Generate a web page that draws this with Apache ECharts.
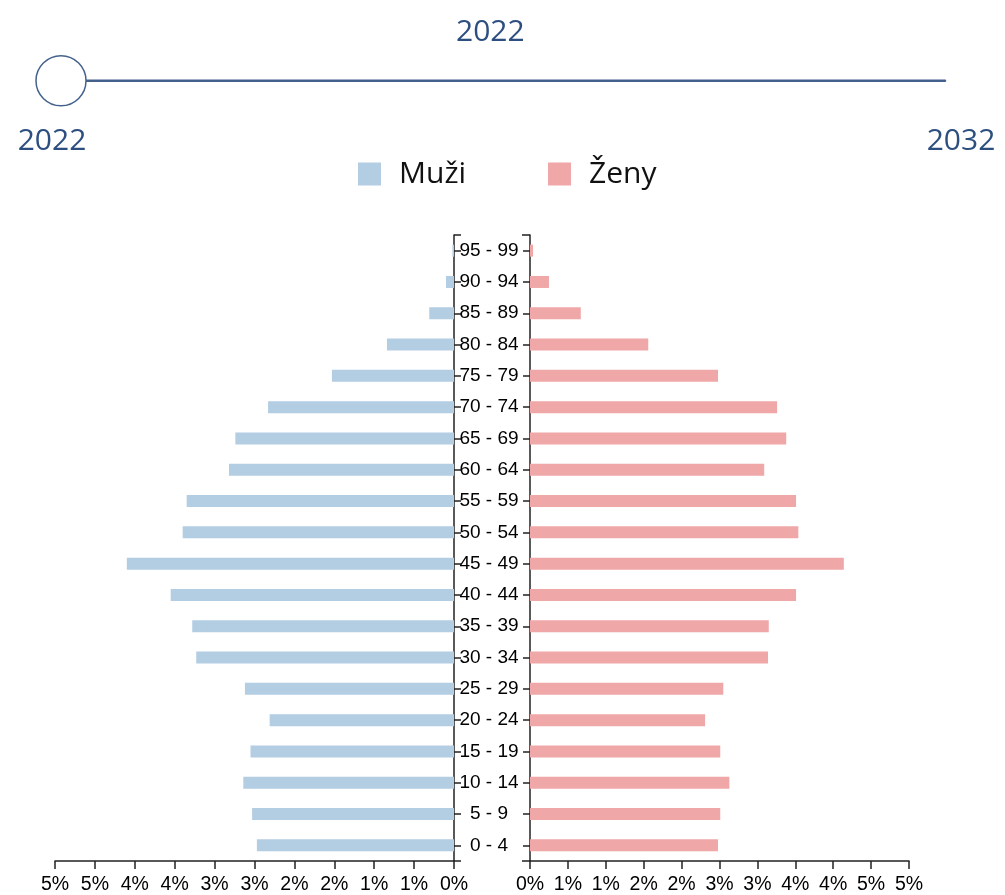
<!DOCTYPE html>
<html>
<head>
<meta charset="utf-8">
<script src="https://cdn.jsdelivr.net/npm/echarts@6/dist/echarts.min.js"></script>
<style>
html,body{margin:0;padding:0;background:#fff;}
#chart{width:1005px;height:895px;}
</style>
</head>
<body>
<div id="chart"></div>
<script>
var years = ['2022','2023','2024','2025','2026','2027','2028','2029','2030','2031','2032'];
var currentYear = '2022';
var categories = ['0 - 4','5 - 9','10 - 14','15 - 19','20 - 24','25 - 29','30 - 34','35 - 39','40 - 44','45 - 49','50 - 54','55 - 59','60 - 64','65 - 69','70 - 74','75 - 79','80 - 84','85 - 89','90 - 94','95 - 99'];
var male = [2.47, 2.53, 2.64, 2.55, 2.31, 2.62, 3.23, 3.28, 3.55, 4.10, 3.40, 3.35, 2.82, 2.74, 2.33, 1.53, 0.84, 0.31, 0.10, 0.02];
var female = [2.48, 2.51, 2.63, 2.51, 2.31, 2.55, 3.14, 3.15, 3.51, 4.14, 3.54, 3.51, 3.09, 3.38, 3.26, 2.48, 1.56, 0.67, 0.25, 0.04];
var seriesNames = ['Muži', 'Ženy'];

var blue = '#b3cde3', pink = '#efa7a8', navy = '#2d4f80', lineNavy = '#44618d';
var uiFont = 'Open Sans', axFont = 'Liberation Sans';

var chart = echarts.init(document.getElementById('chart'), null, {renderer: 'canvas'});

function xAxisCfg(gridIndex, inverse) {
  return {
    type: 'value', gridIndex: gridIndex, min: 0, max: 5, interval: 0.5, inverse: inverse,
    axisLine: {show: true, lineStyle: {color: '#222', width: 1.5}},
    axisTick: {show: true, length: 8, lineStyle: {color: '#222', width: 1.5}},
    splitLine: {show: false},
    axisLabel: {color: '#000', fontFamily: axFont, fontSize: 19.5, margin: 14,
      formatter: function (v) { return Math.round(v) + '%'; }}
  };
}

var years2 = years.map(function (y, i) {
  if (i === 0) return {value: y, label: {padding: [0, 18, 0, 0], color: navy, fontFamily: uiFont, fontSize: 30}};
  if (i === years.length - 1) return {value: y, label: {padding: [0, 0, 0, 32], color: navy, fontFamily: uiFont, fontSize: 30}};
  return y;
});

var option = {
  animation: false,
  title: {
    text: currentYear, left: 451, top: 12,
    textStyle: {color: navy, fontFamily: uiFont, fontSize: 30, fontWeight: 'normal'}
  },
  timeline: {
    axisType: 'category', data: years2, currentIndex: 0, autoPlay: false,
    left: 46, right: 45, top: 40, height: 50,
    symbol: 'circle', symbolSize: 0,
    lineStyle: {color: lineNavy, width: 2.5},
    progress: {lineStyle: {color: lineNavy, width: 2.5}, itemStyle: {color: lineNavy},
      label: {color: navy, fontFamily: uiFont, fontSize: 30}},
    itemStyle: {color: lineNavy},
    checkpointStyle: {symbol: 'circle', symbolSize: 50, color: '#fff', borderColor: lineNavy, borderWidth: 1.5, animation: false},
    controlStyle: {show: false},
    label: {position: 46, interval: 9, color: navy, fontFamily: uiFont, fontSize: 30},
    emphasis: {label: {color: navy, fontFamily: uiFont, fontSize: 30}, itemStyle: {color: lineNavy}, checkpointStyle: {color: '#fff'}}
  },
  legend: {
    data: seriesNames, left: 353, top: 154, itemWidth: 23, itemHeight: 23, itemGap: 82,
    icon: 'rect',
    textStyle: {color: '#111', fontFamily: uiFont, fontSize: 30, padding: [0, 0, 0, 13]}
  },
  grid: [
    {left: 55, right: 551, top: 235, bottom: 33, containLabel: false},
    {left: 530, right: 96, top: 235, bottom: 33, containLabel: false}
  ],
  xAxis: [xAxisCfg(0, true), xAxisCfg(1, false)],
  yAxis: [
    {type: 'category', gridIndex: 0, data: categories, position: 'right',
      axisLine: {show: true, lineStyle: {color: '#222', width: 1.5}},
      axisTick: {show: true, alignWithLabel: true, length: 7, lineStyle: {color: '#222', width: 1.5}},
      axisLabel: {show: false}},
    {type: 'category', gridIndex: 1, data: categories, position: 'left',
      axisLine: {show: true, lineStyle: {color: '#222', width: 1.5}},
      axisTick: {show: true, alignWithLabel: true, length: 7, lineStyle: {color: '#222', width: 1.5}},
      axisLabel: {show: true, align: 'center', margin: 41, color: '#000', fontFamily: axFont, fontSize: 19}},
    {type: 'value', gridIndex: 0, position: 'right', min: 0, max: 1, interval: 1,
      axisLine: {show: false}, splitLine: {show: false}, axisLabel: {show: false},
      axisTick: {show: true, length: 7, lineStyle: {color: '#222', width: 1.5}}},
    {type: 'value', gridIndex: 1, position: 'left', min: 0, max: 1, interval: 1,
      axisLine: {show: false}, splitLine: {show: false}, axisLabel: {show: false},
      axisTick: {show: true, length: 8, lineStyle: {color: '#222', width: 1.5}}}
  ],
  series: [
    {name: seriesNames[0], type: 'bar', xAxisIndex: 0, yAxisIndex: 0, data: male,
      barWidth: 12, itemStyle: {color: blue}},
    {name: seriesNames[1], type: 'bar', xAxisIndex: 1, yAxisIndex: 1, data: female,
      barWidth: 12, itemStyle: {color: pink}}
  ]
};
chart.setOption(option);
</script>
</body>
</html>
